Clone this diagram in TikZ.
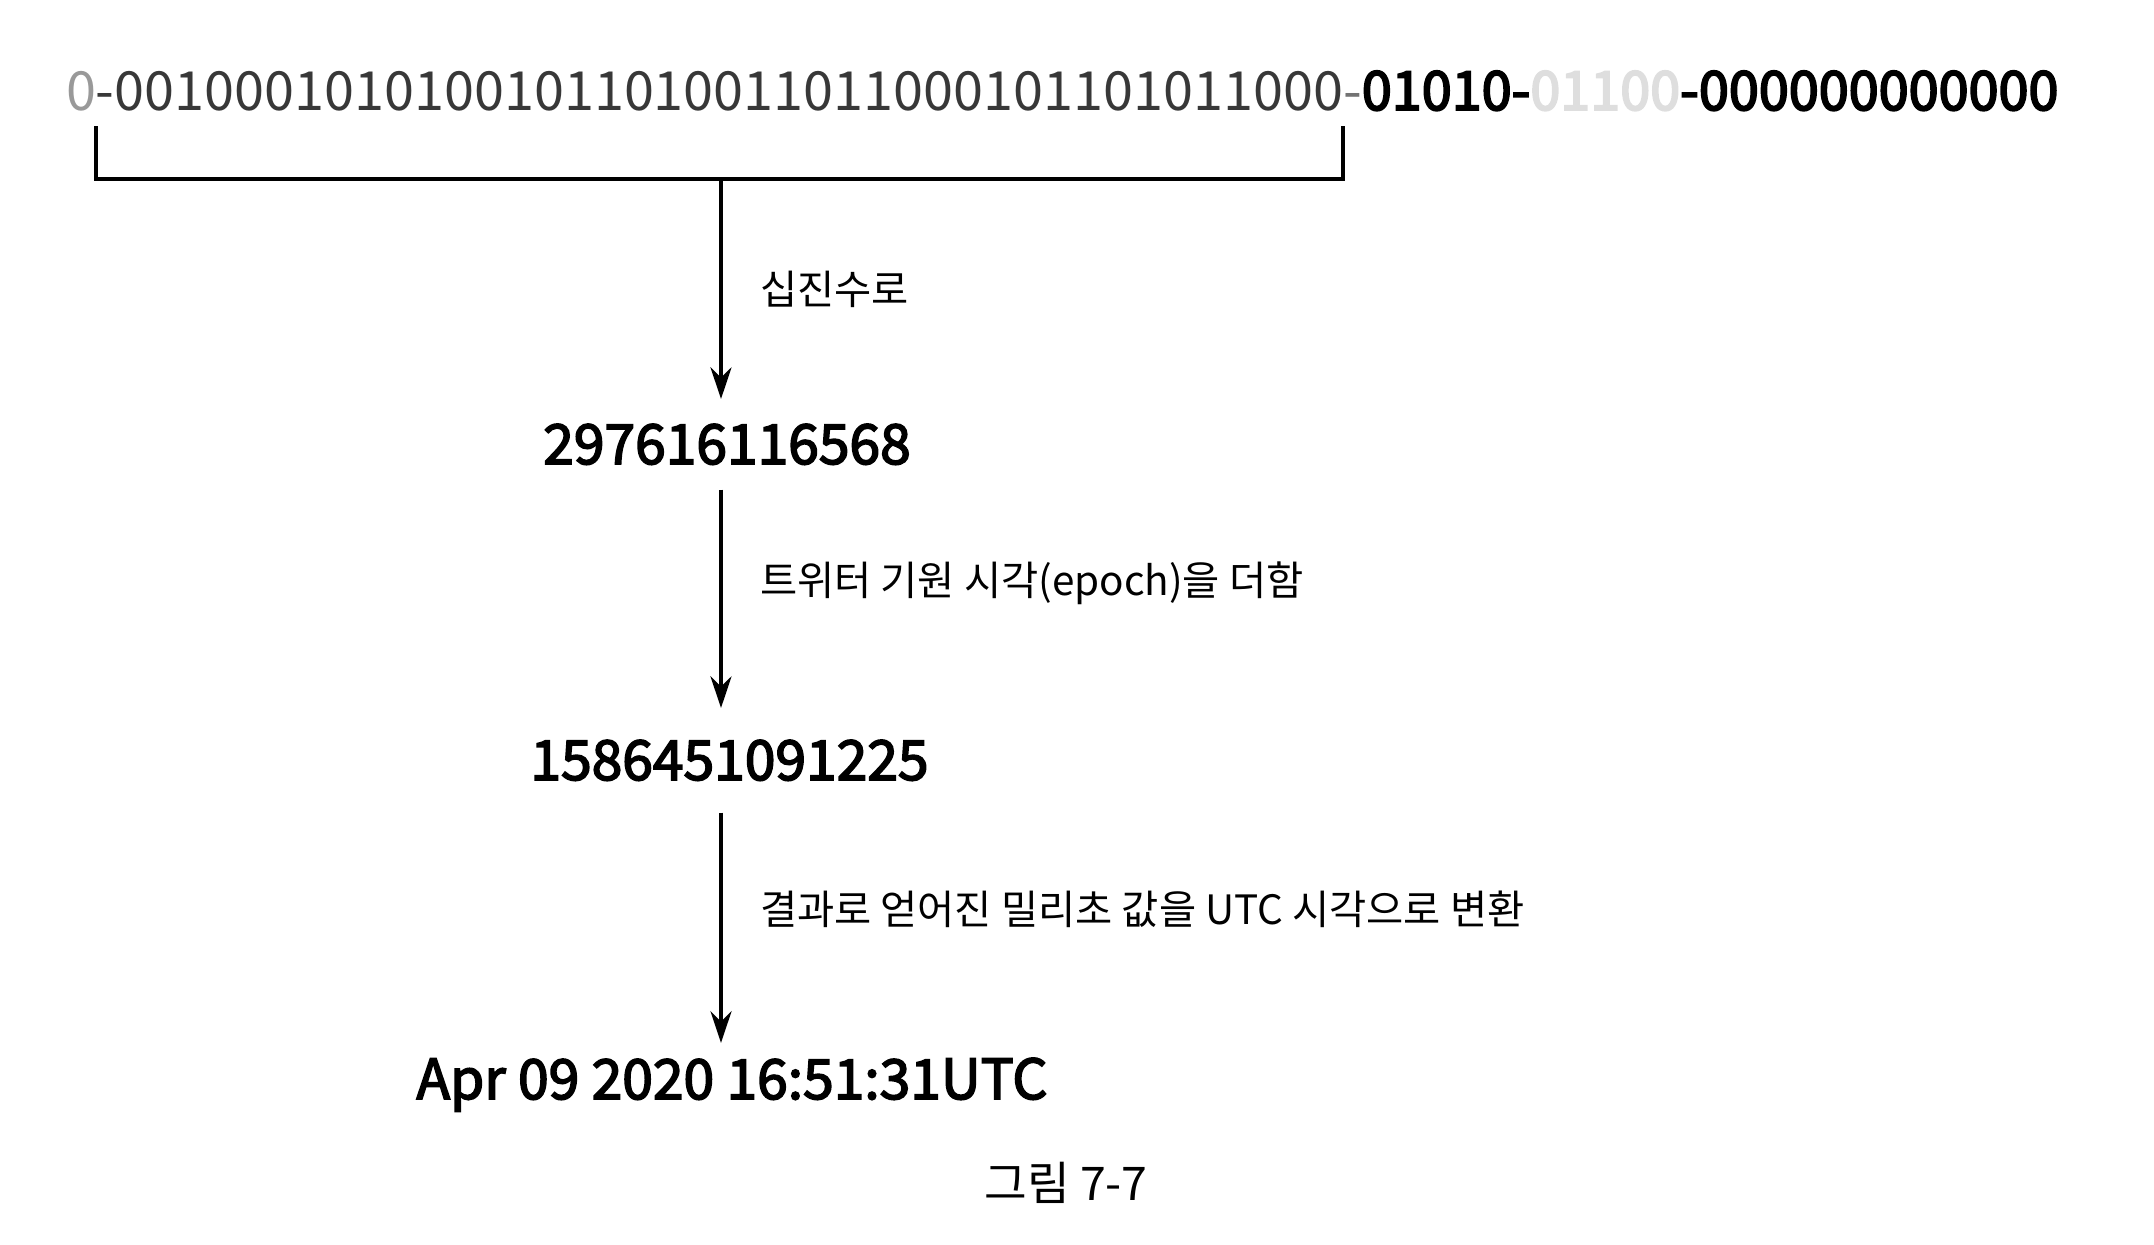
\documentclass[tikz,border=0pt]{standalone}
\usepackage{fontspec}
\setmainfont{Noto Sans CJK KR}
\usetikzlibrary{arrows.meta}

\begin{document}
\begin{tikzpicture}
	\tikzstyle{every node} = [inner sep=0pt, outer sep=0pt]
	\tikzstyle{bitrow} = [anchor=base west, font=\fontsize{15.36}{18}\selectfont]
	\tikzstyle{value} = [anchor=base, inner sep=0.25cm, font=\fontsize{15.7}{19}\selectfont\addfontfeature{FakeBold=3}]
	\tikzstyle{steplabel} = [anchor=west, xshift=0.39cm, font=\fontsize{11.5}{13}\selectfont]
	\tikzstyle{conv} = [line width=0.9pt, -{Stealth[length=9pt, width=6pt]}]
	\useasboundingbox (0,0) rectangle (21.54,-12.44);
	% bit string of the id
	\node[bitrow] (bits) at (0.66,-1.10) {\textcolor{black!40}{0}\textcolor{black!78}{-00100010101001011010011011000101101011000}\textcolor{black!55}{-}{\addfontfeature{FakeBold=3.5}01010-\textcolor{black!13}{01100}-000000000000}};
	\coordinate (bl) at (0.96,-1.26); \coordinate (br) at (13.43,-1.26); \coordinate (stem) at (7.21,-1.79);
	\draw[line width=0.9pt] (bl) |- (stem) -| (br);
	% values
	\node[value] (dec) at (7.27,-4.64) {297616116568};
	\node[value, inner sep=0.32cm] (ms) at (7.295,-7.80) {1586451091225};
	\node[value, inner sep=0.15cm] (utc) at (7.32,-10.99) {Apr 09 2020 16:51:31UTC};
	\node[anchor=base, font=\fontsize{13.2}{15}\selectfont] (cap) at (10.66,-12.00) {그림 7-7};
	% conversions
	\draw[conv] (stem) -- (dec.north -| stem) node[midway, steplabel] {십진수로};
	\draw[conv] (dec.south -| stem) -- (ms.north -| stem) node[pos=0.43, steplabel] {트위터 기원 시각(epoch)을 더함};
	\draw[conv] (ms.south -| stem) -- (utc.north -| stem) node[pos=0.42, steplabel] {결과로 얻어진 밀리초 값을 UTC 시각으로 변환};
\end{tikzpicture}
\end{document}
